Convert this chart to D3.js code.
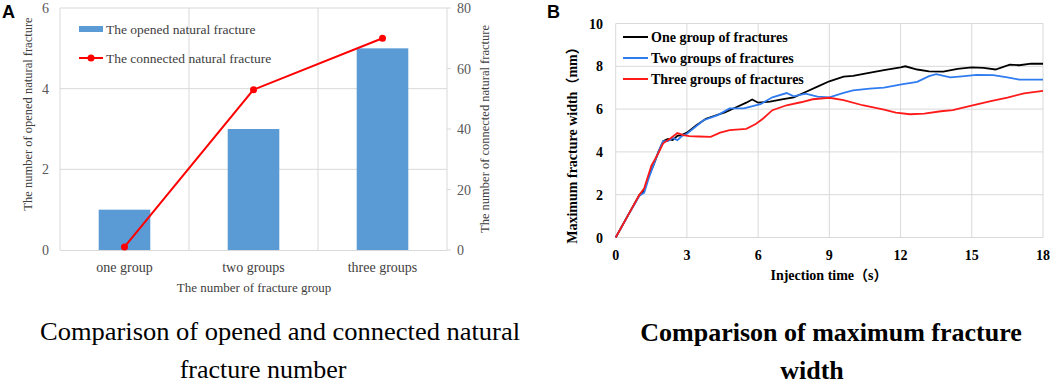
<!DOCTYPE html>
<html>
<head>
<meta charset="utf-8">
<title>Fracture comparison</title>
<script src="https://d3js.org/d3.v7.min.js"></script>
<style>
  body { margin: 0; background: #fff; }
  .serif { font-family: "Liberation Serif", "Times New Roman", "Noto Sans CJK SC", serif; }
  .grid { stroke: #d9d9d9; stroke-width: 1; }
</style>
</head>
<body>
<svg width="1059" height="386"></svg>
<script>
// ---- panel A data
var groups = ["one group", "two groups", "three groups"];
var openedCount = [1, 3, 5];
var connectedCount = [1, 53, 70];
var ticksLeft = [0, 2, 4, 6];
var ticksRight = [0, 20, 40, 60, 80];

// ---- panel B data
var timeOne = [0,0.5,1.0,1.2,1.4,1.6,1.8,2.0,2.2,2.4,2.6,2.8,3.0,3.4,3.8,4.2,4.6,5.1,5.5,5.75,6.0,6.5,7.0,7.5,8.0,8.5,9.0,9.6,10.0,10.5,11.3,12.0,12.2,12.7,13.2,13.8,14.4,15.0,15.5,16.0,16.6,17.0,17.5,18.0];
var widthOne = [0,1.0,2.0,2.2,2.9,3.4,4.0,4.5,4.6,4.55,4.75,4.8,4.9,5.25,5.55,5.7,5.85,6.1,6.3,6.45,6.3,6.35,6.45,6.55,6.8,7.05,7.3,7.52,7.55,7.66,7.82,7.95,8.0,7.85,7.76,7.75,7.88,7.95,7.93,7.85,8.08,8.05,8.12,8.12];
var timeTwo = [0,0.5,1.0,1.2,1.4,1.6,1.8,2.0,2.2,2.4,2.6,2.8,3.0,3.7,4.3,4.8,5.4,6.1,6.6,7.2,7.5,8.0,8.5,9.0,9.6,10.0,10.7,11.3,12.1,12.7,13.2,13.5,14.1,14.7,15.2,15.9,16.5,17.0,18.0];
var widthTwo = [0,1.0,1.95,2.1,2.8,3.4,4.0,4.5,4.5,4.65,4.55,4.75,4.85,5.48,5.72,6.03,6.03,6.23,6.55,6.75,6.6,6.72,6.58,6.55,6.76,6.88,6.96,7.0,7.17,7.27,7.54,7.63,7.48,7.54,7.6,7.59,7.48,7.38,7.38];
var timeThree = [0,0.5,1.0,1.2,1.5,1.8,2.0,2.3,2.6,2.85,3.1,3.5,4.0,4.4,4.8,5.5,5.9,6.2,6.6,7.2,7.8,8.3,9.0,9.6,10.4,11.3,11.8,12.4,13.0,13.7,14.2,14.9,15.8,16.5,17.2,18.0];
var widthThree = [0,1.0,2.0,2.3,3.35,3.95,4.4,4.63,4.88,4.78,4.74,4.72,4.7,4.9,5.02,5.08,5.3,5.55,5.95,6.18,6.32,6.46,6.53,6.42,6.18,5.98,5.84,5.76,5.79,5.9,5.95,6.14,6.37,6.54,6.73,6.85];
var seriesNames = ["One group of fractures", "Two groups of fractures", "Three groups of fractures"];
var seriesColors = ["#000000", "#2f7bf0", "#ff1a1a"];
var ticksX = [0, 3, 6, 9, 12, 15, 18];
var ticksY = [0, 2, 4, 6, 8, 10];

var svg = d3.select("svg");

// ================= Panel A =================
var gA = svg.append("g");
var xA = d3.scaleBand().domain(groups).range([60, 447]).padding(0);
var yA = d3.scaleLinear().domain([0, 6]).range([250, 8]);
var yA2 = d3.scaleLinear().domain([0, 80]).range([250, 8]);

// gridlines
gA.selectAll("line.hgrid").data(ticksLeft.slice(1)).enter().append("line")
  .attr("class", "grid")
  .attr("x1", 60).attr("x2", 447)
  .attr("y1", function(d) { return yA(d); }).attr("y2", function(d) { return yA(d); });
gA.selectAll("line.vgrid").data(groups).enter().append("line")
  .attr("class", "grid")
  .attr("x1", function(d) { return xA(d); }).attr("x2", function(d) { return xA(d); })
  .attr("y1", 8).attr("y2", 250);
gA.append("line").attr("class", "grid")
  .attr("x1", 447).attr("x2", 447).attr("y1", 8).attr("y2", 250);

// bars
gA.selectAll("rect.bar").data(groups).enter().append("rect")
  .attr("x", function(d) { return xA(d) + xA.bandwidth() * 0.3; })
  .attr("width", xA.bandwidth() * 0.4)
  .attr("y", function(d, i) { return yA(openedCount[i]); })
  .attr("height", function(d, i) { return yA(0) - yA(openedCount[i]); })
  .attr("fill", "#5b9bd5");

// baseline
gA.append("line").attr("class", "grid")
  .attr("x1", 60).attr("x2", 447).attr("y1", 250.5).attr("y2", 250.5);

// right axis ticks
gA.selectAll("line.rtick").data(ticksRight).enter().append("line")
  .attr("x1", 447).attr("x2", 451)
  .attr("y1", function(d) { return yA2(d); }).attr("y2", function(d) { return yA2(d); })
  .attr("stroke", "#d9d9d9");

// connected line
var lineA = d3.line()
  .x(function(d, i) { return xA(groups[i]) + xA.bandwidth() / 2; })
  .y(function(d) { return yA2(d); });
gA.append("path").datum(connectedCount)
  .attr("d", lineA).attr("fill", "none").attr("stroke", "#ff0000").attr("stroke-width", 2);
gA.selectAll("circle.pt").data(connectedCount).enter().append("circle")
  .attr("cx", function(d, i) { return xA(groups[i]) + xA.bandwidth() / 2; })
  .attr("cy", function(d) { return yA2(d); })
  .attr("r", 3.5).attr("fill", "#ff0000");

// tick labels
gA.selectAll("text.tl").data(ticksLeft).enter().append("text")
  .attr("class", "serif")
  .attr("x", 49).attr("y", function(d) { return yA(d) + 5; })
  .attr("text-anchor", "end").attr("font-size", 14).attr("fill", "#595959")
  .text(function(d) { return d; });
gA.selectAll("text.tr").data(ticksRight).enter().append("text")
  .attr("class", "serif")
  .attr("x", 457).attr("y", function(d) { return yA2(d) + 5; })
  .attr("text-anchor", "start").attr("font-size", 14).attr("fill", "#595959")
  .text(function(d) { return d; });
gA.selectAll("text.cat").data(groups).enter().append("text")
  .attr("class", "serif")
  .attr("x", function(d) { return xA(d) + xA.bandwidth() / 2; })
  .attr("y", 272)
  .attr("text-anchor", "middle").attr("font-size", 14).attr("fill", "#404040")
  .text(function(d) { return d; });

// axis titles
gA.append("text").attr("class", "serif")
  .attr("transform", "translate(32,114) rotate(-90)")
  .attr("text-anchor", "middle").attr("font-size", 12.5).attr("fill", "#404040")
  .text("The number of opened natural fracture");
gA.append("text").attr("class", "serif")
  .attr("transform", "translate(489,129) rotate(-90)")
  .attr("text-anchor", "middle").attr("font-size", 12.5).attr("fill", "#404040")
  .text("The number of connected natural fracture");
gA.append("text").attr("class", "serif")
  .attr("x", 254).attr("y", 292)
  .attr("text-anchor", "middle").attr("font-size", 13).attr("fill", "#404040")
  .text("The number of fracture group");

// legend A
gA.append("rect").attr("x", 79).attr("y", 26).attr("width", 24).attr("height", 6).attr("fill", "#5b9bd5");
gA.append("text").attr("class", "serif").attr("x", 106).attr("y", 34)
  .attr("font-size", 13.5).attr("fill", "#404040").text("The opened natural fracture");
gA.append("line").attr("x1", 79).attr("x2", 103).attr("y1", 58).attr("y2", 58)
  .attr("stroke", "#ff0000").attr("stroke-width", 2);
gA.append("circle").attr("cx", 91).attr("cy", 58).attr("r", 3.5).attr("fill", "#ff0000");
gA.append("text").attr("class", "serif").attr("x", 106).attr("y", 63)
  .attr("font-size", 13.5).attr("fill", "#404040").text("The connected natural fracture");

// panel letter
svg.append("text").attr("x", 2).attr("y", 18)
  .attr("font-family", "Liberation Sans, Arial, sans-serif").attr("font-weight", "bold")
  .attr("font-size", 18).text("A");

// caption A
svg.append("text").attr("class", "serif").attr("x", 280).attr("y", 340)
  .attr("text-anchor", "middle").attr("font-size", 26)
  .attr("textLength", 480).attr("lengthAdjust", "spacingAndGlyphs")
  .text("Comparison of opened and connected natural");
svg.append("text").attr("class", "serif").attr("x", 263).attr("y", 378)
  .attr("text-anchor", "middle").attr("font-size", 26)
  .text("fracture number");

// ================= Panel B =================
var gB = svg.append("g");
var xB = d3.scaleLinear().domain([0, 18]).range([615.7, 1043]);
var yB = d3.scaleLinear().domain([0, 10]).range([237.5, 23.5]);

gB.selectAll("line.bh").data(ticksY).enter().append("line")
  .attr("class", "grid")
  .attr("x1", xB(0)).attr("x2", xB(18))
  .attr("y1", function(d) { return yB(d); }).attr("y2", function(d) { return yB(d); });
gB.selectAll("line.bv").data(ticksX).enter().append("line")
  .attr("class", "grid")
  .attr("x1", function(d) { return xB(d); }).attr("x2", function(d) { return xB(d); })
  .attr("y1", yB(10)).attr("y2", yB(0));

var series = [
  { t: timeOne, w: widthOne },
  { t: timeTwo, w: widthTwo },
  { t: timeThree, w: widthThree }
];
var lineB = d3.line()
  .x(function(d) { return xB(d[0]); })
  .y(function(d) { return yB(d[1]); });
gB.selectAll("path.s").data(series).enter().append("path")
  .attr("d", function(s) { return lineB(d3.zip(s.t, s.w)); })
  .attr("fill", "none")
  .attr("stroke", function(d, i) { return seriesColors[i]; })
  .attr("stroke-width", 1.8);

gB.selectAll("text.bx").data(ticksX).enter().append("text")
  .attr("class", "serif")
  .attr("x", function(d) { return xB(d); }).attr("y", 260)
  .attr("text-anchor", "middle").attr("font-size", 14).attr("font-weight", "bold")
  .text(function(d) { return d; });
gB.selectAll("text.by").data(ticksY).enter().append("text")
  .attr("class", "serif")
  .attr("x", 603).attr("y", function(d) { return yB(d) + 5; })
  .attr("text-anchor", "end").attr("font-size", 14).attr("font-weight", "bold")
  .text(function(d) { return d; });

gB.append("text").attr("class", "serif")
  .attr("transform", "translate(577,142) rotate(-90)")
  .attr("text-anchor", "middle").attr("font-size", 14).attr("font-weight", "bold")
  .text("Maximum fracture width（mm）");
gB.append("text").attr("class", "serif")
  .attr("x", 829).attr("y", 280)
  .attr("text-anchor", "middle").attr("font-size", 14).attr("font-weight", "bold")
  .text("Injection time（s）");

// legend B
var legB = gB.selectAll("g.leg").data(seriesNames).enter().append("g")
  .attr("transform", function(d, i) { return "translate(623," + (37 + i * 21) + ")"; });
legB.append("line").attr("x1", 0).attr("x2", 25).attr("y1", 0).attr("y2", 0)
  .attr("stroke", function(d, i) { return seriesColors[i]; }).attr("stroke-width", 2);
legB.append("text").attr("class", "serif").attr("x", 28).attr("y", 5)
  .attr("font-size", 14).attr("font-weight", "bold")
  .text(function(d) { return d; });

svg.append("text").attr("x", 547).attr("y", 18)
  .attr("font-family", "Liberation Sans, Arial, sans-serif").attr("font-weight", "bold")
  .attr("font-size", 18).text("B");

// caption B
svg.append("text").attr("class", "serif").attr("x", 831).attr("y", 341)
  .attr("text-anchor", "middle").attr("font-size", 26).attr("font-weight", "bold")
  .text("Comparison of maximum fracture");
svg.append("text").attr("class", "serif").attr("x", 812).attr("y", 379)
  .attr("text-anchor", "middle").attr("font-size", 26).attr("font-weight", "bold")
  .text("width");
</script>
</body>
</html>
